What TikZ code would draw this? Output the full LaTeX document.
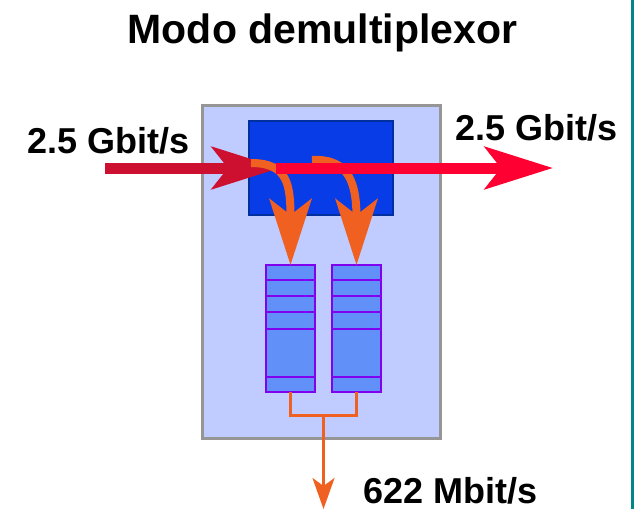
\documentclass[tikz,border=0pt]{standalone}
\usepackage{fontspec}
\setmainfont{Liberation Sans}
\usepackage{tikz}
\usepackage{xcolor}
\usetikzlibrary{arrows.meta,positioning,calc}

\definecolor{boxfill}{RGB}{192,204,255}
\definecolor{boxedge}{RGB}{150,150,150}
\definecolor{procfill}{RGB}{8,60,230}
\definecolor{procedge}{RGB}{0,48,160}
\definecolor{qfill}{RGB}{96,144,248}
\definecolor{qedge}{RGB}{128,0,240}
\definecolor{flow}{RGB}{240,96,32}
\definecolor{crimsonin}{RGB}{205,16,48}
\definecolor{redout}{RGB}{255,0,51}
\definecolor{tealedge}{RGB}{0,136,136}

\begin{document}
\begin{tikzpicture}[x=1pt, y=-1pt,
    lbl/.style={font=\bfseries\fontsize{36}{40}\selectfont, inner sep=0pt},
    queue/.style={draw=qedge, fill=qfill, line width=2.5pt, minimum width=49pt,
                  minimum height=127pt, inner sep=0pt, outer sep=0pt},
    bigarrow/.style={line width=11pt, -{Stealth[length=68pt, width=42pt, inset=16pt]}},
    curvearrow/.style={flow, line width=8pt, -{Stealth[length=66pt, width=42pt, inset=16pt]}},
    dropline/.style={flow, line width=3pt}]
    \useasboundingbox (0,0) rectangle (634,509);

    % Title
    \node[font=\bfseries\fontsize{41}{48}\selectfont, inner sep=0pt, anchor=base] (title) at (322.5,43) {Modo demultiplexor};

    % Node body and switching block
    \node[draw=boxedge, fill=boxfill, line width=3pt, minimum width=238pt, minimum height=333pt,
          inner sep=0pt, outer sep=0pt] (mux) at (321,271.5) {};
    \node[draw=procedge, fill=procfill, line width=2pt, minimum width=144pt, minimum height=94pt,
          inner sep=0pt, outer sep=0pt] (proc) at (321,168) {};

    % Drop queues with their slots
    \node[queue] (qleft) at (290.5,328.5) {};
    \node[queue, right=17pt of qleft] (qright) {};
    \foreach \q in {qleft,qright}
        \foreach \yy in {280,296,312,329,377}
            \draw[qedge, line width=2.5pt] (\q.west |- 0,\yy) -- (\q.east |- 0,\yy);

    % Merge of the queues to the tributary output
    \draw[dropline] (qleft.south) -- ++(0,23) -| (qright.south);
    \coordinate (join) at ($(qleft.south)!0.5!(qright.south)+(0,23)$);
    \coordinate (drop) at (join |- 0,509);
    \draw[dropline, -{Stealth[length=31pt, width=22pt, inset=8pt]}] (join) -- (drop);

    % Line signal in
    \coordinate (inL) at (105,168);
    \coordinate (hit) at (280,168);
    \draw[bigarrow, crimsonin] (inL) -- (hit);

    % Dropped channels
    \coordinate (tap1) at (251,163);
    \coordinate (tap2) at (312,160);
    \draw[curvearrow] (tap1) .. controls +(37,0) and +(0,-80) .. (qleft.north);
    \draw[curvearrow] (tap2) .. controls +(38,-2) and +(0,-80) .. (qright.north);

    % Line signal out
    \coordinate (pass) at (276,168);
    \coordinate (outR) at (553,168);
    \draw[bigarrow, redout] (pass) -- (outR);

    % Rates
    \node[lbl, anchor=base west] (ratein) at (27,153) {2.5 Gbit/s};
    \node[lbl, anchor=base west] (rateout) at (455,140) {2.5 Gbit/s};
    \node[lbl, anchor=base west] (ratedrop) at (363,503.5) {622 Mbit/s};

    % Right edge
    \draw[tealedge, line width=3pt] (632.5,0) -- (632.5,509);
\end{tikzpicture}
\end{document}
